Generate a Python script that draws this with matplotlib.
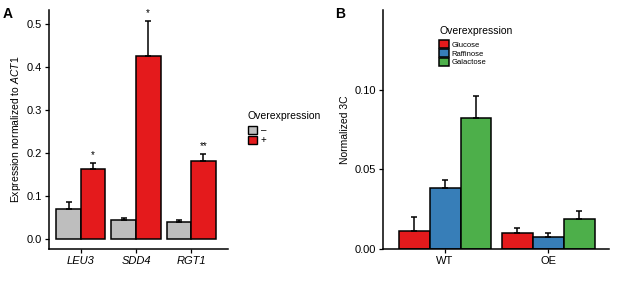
import matplotlib
matplotlib.use("Agg")
import matplotlib.pyplot as plt
from matplotlib.patches import Patch

plt.rcParams['font.family'] = ['Liberation Sans', 'DejaVu Sans']
plt.rcParams['mathtext.fontset'] = 'custom'
plt.rcParams['mathtext.rm'] = 'Liberation Sans'
plt.rcParams['mathtext.it'] = 'Liberation Sans:italic'

# panel A data
genes = ["LEU3", "SDD4", "RGT1"]
minus_vals = [0.070, 0.045, 0.040]
minus_err = [0.017, 0.004, 0.005]
plus_vals = [0.163, 0.427, 0.181]
plus_err = [0.015, 0.081, 0.016]
stars = ["*", "*", "**"]

# panel B data
groups = ["WT", "OE"]
conditions = ["Glucose", "Raffinose", "Galactose"]
glucose = [0.011, 0.010]
raffinose = [0.038, 0.0075]
galactose = [0.082, 0.019]
glucose_err = [0.009, 0.003]
raffinose_err = [0.005, 0.0028]
galactose_err = [0.014, 0.005]

grey = "#bebebe"
red = "#e41a1c"
blue = "#377eb8"
green = "#4daf4a"

fig = plt.figure(figsize=(6.17, 2.86), dpi=100)
axA = fig.add_axes([0.0794, 0.1294, 0.2901, 0.8356])
axB = fig.add_axes([0.6207, 0.1294, 0.3663, 0.8356])


def style_axis(ax):
    for s in ["top", "right"]:
        ax.spines[s].set_visible(False)
    for s in ["left", "bottom"]:
        ax.spines[s].set_linewidth(1.1)
    ax.tick_params(axis="both", labelsize=8, length=3, width=0.9, pad=2)


# ---- panel A
w = 0.445
x = list(range(1, len(genes) + 1))
xm = [i - w / 2 for i in x]
xp = [i + w / 2 for i in x]
ekw = dict(elinewidth=1.1, capthick=1.1, ecolor="black")
axA.bar(xm, minus_vals, w, color=grey, edgecolor="black", linewidth=1.1)
axA.bar(xp, plus_vals, w, color=red, edgecolor="black", linewidth=1.1)
axA.errorbar(xm, minus_vals, yerr=[[0] * 3, minus_err], fmt="none", capsize=2.5, **ekw)
axA.errorbar(xp, plus_vals, yerr=[[0] * 3, plus_err], fmt="none", capsize=2.5, **ekw)
for xi, v, e, s in zip(xp, plus_vals, plus_err, stars):
    axA.text(xi, v + e + 0.007, s, ha="center", va="bottom", fontsize=7)
axA.set_xlim(0.42, 3.67)
axA.set_ylim(-0.023, 0.533)
axA.set_yticks([0.0, 0.1, 0.2, 0.3, 0.4, 0.5])
axA.set_yticklabels(["0.0", "0.1", "0.2", "0.3", "0.4", "0.5"])
axA.set_xticks(x)
axA.set_xticklabels(genes, style="italic")
axA.set_ylabel(r"Expression normalized to $\it{ACT1}$", fontsize=7.5, labelpad=3)
style_axis(axA)

legA = fig.legend(handles=[Patch(facecolor=grey, edgecolor="black", label="\u2013"),
                           Patch(facecolor=red, edgecolor="black", label="+")],
                  title="Overexpression", loc="upper left",
                  bbox_to_anchor=(0.395, 0.625), frameon=False, fontsize=7,
                  title_fontsize=7.5, handlelength=0.95, handleheight=0.95,
                  handletextpad=0.4, labelspacing=0.0, borderaxespad=0)
legA._legend_box.align = "left"
legA._legend_box.sep = 3

# ---- panel B
wb = 0.30
xb = [1, 2]
vals = [glucose, raffinose, galactose]
errs = [glucose_err, raffinose_err, galactose_err]
cols = [red, blue, green]
for k in range(3):
    pos = [c + (k - 1) * wb for c in xb]
    axB.bar(pos, vals[k], wb, color=cols[k], edgecolor="black", linewidth=1.1, label=conditions[k])
    axB.errorbar(pos, vals[k], yerr=[[0, 0], errs[k]], fmt="none", capsize=2.5, **ekw)
axB.set_xlim(0.398, 2.59)
axB.set_ylim(0, 0.15)
axB.set_yticks([0.0, 0.05, 0.10])
axB.set_yticklabels(["0.00", "0.05", "0.10"])
axB.set_xticks(xb)
axB.set_xticklabels(groups)
axB.set_ylabel("Normalized 3C", fontsize=7.5, labelpad=3)
style_axis(axB)

legB = axB.legend(title="Overexpression", loc="upper left",
                  bbox_to_anchor=(0.235, 0.945), frameon=False, fontsize=5.5,
                  title_fontsize=7.5, handlelength=1.25, handleheight=1.25,
                  handletextpad=0.4, labelspacing=0.0, borderaxespad=0)
legB._legend_box.align = "left"
legB._legend_box.sep = 3

fig.text(0.004, 0.975, "A", fontsize=10, fontweight="bold", va="top")
fig.text(0.543, 0.975, "B", fontsize=10, fontweight="bold", va="top")

fig.savefig("out.png", dpi=100)
